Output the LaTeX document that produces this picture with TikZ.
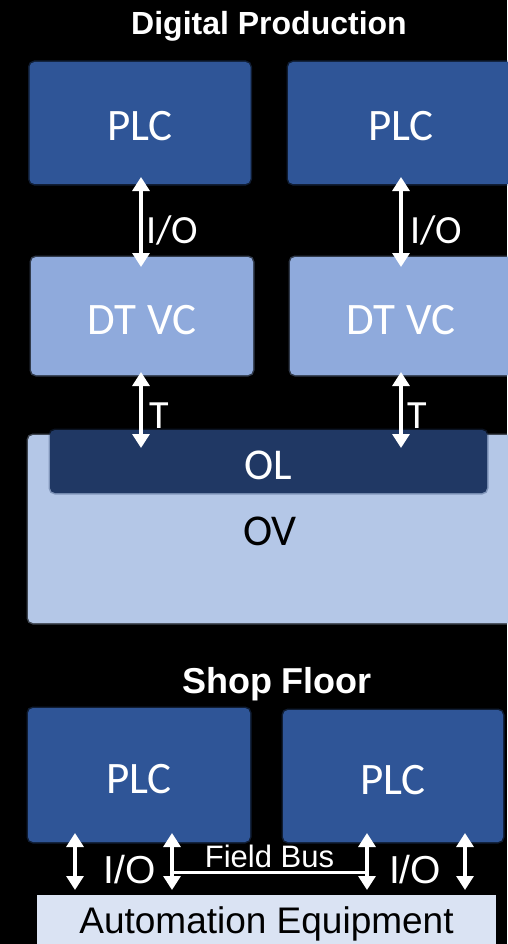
\documentclass[tikz,border=0pt]{standalone}
\usepackage{fontspec}
\setmainfont{Carlito}
\newfontfamily\arialfont{Liberation Sans}
\usetikzlibrary{arrows.meta, calc, positioning}

\begin{document}
\begin{tikzpicture}[
  x=1pt, y=-1pt,
  % ---- styles ----
  blk/.style 2 args={%
    fill=#1, draw=#1, draw opacity=0.35, line width=3pt, rounded corners=5pt,
    minimum width=#2, inner sep=0pt, outer sep=0pt, text=white,
    font=\fontsize{45}{48}\selectfont, text height=36pt, text depth=0pt,
  },
  eqbox/.style={%
    fill=Cae, inner sep=0pt, outer sep=0pt, text=black,
    font=\arialfont\fontsize{37}{40}\selectfont,
  },
  ttl/.style={font=\arialfont\bfseries\fontsize{32}{36}\selectfont,
    text=white, anchor=base, inner sep=0pt},
  lbl/.style={font=\fontsize{40}{44}\selectfont, text=white,
    anchor=base west, inner sep=0pt},
  albl/.style={font=\arialfont\fontsize{39}{42}\selectfont, text=white,
    anchor=base, inner sep=0pt},
  dbl/.style={white, line width=3.2pt,
    {Triangle[length=14pt,width=17pt]}-{Triangle[length=14pt,width=17pt]}},
  bus/.style={white, line width=3pt},
]

% ---- colour palette ----
\definecolor{Cplc}{RGB}{47,85,151}     % PLC boxes
\definecolor{Cdt}{RGB}{143,170,220}    % DT VC
\definecolor{Cov}{RGB}{180,199,231}    % OV
\definecolor{Col}{RGB}{32,56,100}      % OL
\definecolor{Cae}{RGB}{218,227,243}    % automation equipment

\fill[black] (0,0) rectangle (507,944);
\useasboundingbox (0,0) rectangle (507,944);

% =========================================================
% Digital Production
% =========================================================
\node[ttl] (Ldp) at (269,35) {Digital Production};

\node[blk={Cplc}{221}, minimum height=122] (plcA) at (140,123) {PLC};
\node[blk={Cplc}{226}, minimum height=122] (plcB) at (401,123) {PLC};

\node[blk={Cdt}{222}, minimum height=118] (dtA) at (142,316) {DT VC};
\node[blk={Cdt}{222}, minimum height=118] (dtB) at (401,316) {DT VC};

\node[blk={Cov}{492}, minimum height=188] (ov) at (274,529) {};
\node[blk={Col}{437}, minimum height=63, font=\fontsize{44}{48}\selectfont]
    (ol) at (268.5,461.5) {OL};
\node[font=\fontsize{44}{48}\selectfont, anchor=base, inner sep=0pt]
    (Lov) at (270,545) {OV};

% PLC <-> DT VC
\draw[dbl] ($(plcA.south)+(1,-7)$) -- ($(plcA.south |- dtA.north)+(1,10)$);
\draw[dbl] ($(plcB.south)+(0,-7)$) -- ($(plcB.south |- dtB.north)+(0,10)$);
\node[lbl] (Lio1) at (146,243) {I/O};
\node[lbl] (Lio2) at (410,243) {I/O};

% DT VC <-> OL
\draw[dbl] ($(dtA.south)+(-1,-3)$) -- ($(dtA.south |- ol.north)+(-1,18)$);
\draw[dbl] ($(dtB.south)+(0,-3)$) -- ($(dtB.south |- ol.north)+(0,18)$);
\node[lbl] (Lt1) at (149,428) {T};
\node[lbl] (Lt2) at (407,428) {T};

% =========================================================
% Shop Floor
% =========================================================
\node[ttl, font=\arialfont\bfseries\fontsize{36}{40}\selectfont]
    (Lsf) at (277,693) {Shop Floor};

\node[blk={Cplc}{222}, minimum height=134] (plcC) at (139,775) {PLC};
\node[blk={Cplc}{220}, minimum height=132] (plcD) at (393,776) {PLC};

\node[eqbox, minimum width=459, minimum height=58]
    (ae) at (266.5,924) {Automation Equipment};

% PLC <-> equipment
\draw[dbl] ($(plcC.south)+(-64,-9)$) -- ($(plcC.south |- ae.north)+(-64,-5)$);
\draw[dbl] ($(plcC.south)+(33,-9)$)  -- ($(plcC.south |- ae.north)+(33,-5)$);
\draw[dbl] ($(plcD.south)+(-26,-9)$) -- ($(plcD.south |- ae.north)+(-26,-5)$);
\draw[dbl] ($(plcD.south)+(72,-9)$)  -- ($(plcD.south |- ae.north)+(72,-5)$);

% field bus between the inner arrows
\draw[bus] ($(plcC.south)+(33,30)$) -- ($(plcD.south)+(-26,30)$)
    node[albl, midway, yshift=5pt, font=\arialfont\fontsize{31}{34}\selectfont]
    (Lfb) {Field Bus};

\node[albl] (Lio3) at (130,883) {I/O};
\node[albl] (Lio4) at (415,883) {I/O};

\end{tikzpicture}
\end{document}
